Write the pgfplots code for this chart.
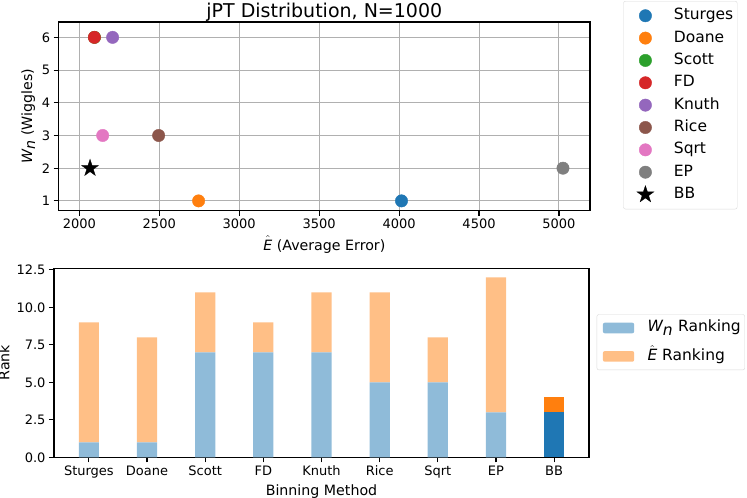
\documentclass[border=0pt]{standalone}
\usepackage{fontspec}
\setmainfont{DejaVu Sans}
\usepackage{pgfplots}
\pgfplotsset{compat=1.18}
\definecolor{c0}{HTML}{1F77B4}
\definecolor{c1}{HTML}{FF7F0E}
\definecolor{c2}{HTML}{2CA02C}
\definecolor{c3}{HTML}{D62728}
\definecolor{c4}{HTML}{9467BD}
\definecolor{c5}{HTML}{8C564B}
\definecolor{c6}{HTML}{E377C2}
\definecolor{c7}{HTML}{7F7F7F}
\definecolor{c0a}{HTML}{8FBBD9}
\definecolor{c1a}{HTML}{FFBF86}
\definecolor{gridc}{HTML}{B0B0B0}
\pgfdeclareplotmark{fstar}{%
  \pgfpathmoveto{\pgfqpointpolar{90}{\pgfplotmarksize}}%
  \pgfpathlineto{\pgfqpointpolar{126}{0.382\pgfplotmarksize}}%
  \pgfpathlineto{\pgfqpointpolar{162}{\pgfplotmarksize}}%
  \pgfpathlineto{\pgfqpointpolar{198}{0.382\pgfplotmarksize}}%
  \pgfpathlineto{\pgfqpointpolar{234}{\pgfplotmarksize}}%
  \pgfpathlineto{\pgfqpointpolar{270}{0.382\pgfplotmarksize}}%
  \pgfpathlineto{\pgfqpointpolar{306}{\pgfplotmarksize}}%
  \pgfpathlineto{\pgfqpointpolar{342}{0.382\pgfplotmarksize}}%
  \pgfpathlineto{\pgfqpointpolar{18}{\pgfplotmarksize}}%
  \pgfpathlineto{\pgfqpointpolar{54}{0.382\pgfplotmarksize}}%
  \pgfpathclose
  \pgfusepathqfillstroke}
\pgfplotsset{
  myax/.style={
    scale only axis,
    axis line style={black, line width=1.1pt},
    tick style={black, line width=1.1pt},
    tick align=outside,
    major tick length=5pt,
    xtick pos=left, ytick pos=left,
    /pgf/number format/assume math mode=true,
    tick label style={font=\fontsize{13}{15}\selectfont},
    label style={font=\fontsize{14.2}{16}\selectfont},
    legend cell align=left,
  },
}
\begin{document}
\begin{tikzpicture}
\useasboundingbox (0pt,0pt) rectangle (747pt,498pt);
% ---------- top scatter ----------
\begin{axis}[myax,
  at={(58.7pt,287.3pt)}, anchor=south west,
  width=531.3pt, height=188.7pt,
  xmin=1871, xmax=5194, ymin=0.70, ymax=6.47,
  xtick={2000,2500,...,5000}, ytick={1,2,...,6},
  /pgf/number format/.cd, set thousands separator={}, /pgfplots/.cd,
  grid=major, grid style={gridc, line width=1pt},
  title={\fontsize{19}{21}\selectfont jPT Distribution, N=1000},
  title style={yshift=-9pt},
  xlabel={$\hat{\textit{E}}$ (Average Error)},
  ylabel={$\textit{W}_{\textit{n}}$ (Wiggles)},
  legend style={at={(1.0627,1.111)}, anchor=north west,
    draw=black!15, fill=white, rounded corners=2pt,
    font=\fontsize{15.5}{17}\selectfont,
    inner xsep=4pt, inner ysep=5pt,
    row sep=3.35pt,
    nodes={text height=11.5pt, text depth=3.5pt, inner ysep=2pt, inner xsep=0pt},
    /tikz/every odd column/.append style={column sep=6pt},
  },
  legend image code/.code={\path (0pt,0pt) (40pt,0pt); \draw[#1] plot coordinates {(17.7pt,0pt)};},
]
\addplot[only marks, mark=*, mark size=6.2pt, color=c0] coordinates {(4015,1)};
\addlegendentry{Sturges}
\addplot[only marks, mark=*, mark size=6.2pt, color=c1] coordinates {(2746,1)};
\addlegendentry{Doane}
\addplot[only marks, mark=*, mark size=6.2pt, color=c2] coordinates {(2095,6)};
\addlegendentry{Scott}
\addplot[only marks, mark=*, mark size=6.2pt, color=c3] coordinates {(2094,6)};
\addlegendentry{FD}
\addplot[only marks, mark=*, mark size=6.2pt, color=c4] coordinates {(2208,6)};
\addlegendentry{Knuth}
\addplot[only marks, mark=*, mark size=6.2pt, color=c5] coordinates {(2496,3)};
\addlegendentry{Rice}
\addplot[only marks, mark=*, mark size=6.2pt, color=c6] coordinates {(2146,3)};
\addlegendentry{Sqrt}
\addplot[only marks, mark=*, mark size=6.2pt, color=c7] coordinates {(5025,2)};
\addlegendentry{EP}
\addplot[only marks, mark=fstar, mark size=9pt, color=black, mark options={fill=black, line width=0.3pt}] coordinates {(2067,2)};
\addlegendentry{BB}
\end{axis}
% ---------- bottom bars ----------
\begin{axis}[myax,
  at={(54pt,40.7pt)}, anchor=south west,
  width=535pt, height=189pt,
  xmin=-0.6, xmax=8.6, ymin=0, ymax=12.6,
  ybar stacked, bar width=20.2pt,
  xtick={0,...,8},
  xticklabels={Sturges,Doane,Scott,FD,Knuth,Rice,Sqrt,EP,BB},
  ytick={0,2.5,...,12.5},
  yticklabel style={/pgf/number format/.cd, fixed, fixed zerofill, precision=1},
  xlabel={Binning Method},
  ylabel={Rank},
  legend style={at={(1.0144,0.609)}, anchor=west,
    draw=black!15, rounded corners=2pt, fill=white,
    font=\fontsize{15.5}{17}\selectfont,
    inner xsep=4pt, inner ysep=4pt,
    row sep=9.4pt,
    nodes={text height=11.5pt, text depth=3.5pt, inner ysep=2pt, inner xsep=0pt},
    /tikz/every odd column/.append style={column sep=6pt},
  },
  legend image code/.code={\path (0pt,0pt) (40.6pt,0pt); \fill[#1] (2pt,-5.35pt) rectangle (33.3pt,5.35pt);},
]
\addlegendimage{fill=c0a, draw=none}
\addlegendimage{fill=c1a, draw=none}
\addplot[fill=c0a, draw=none] coordinates {(0,1) (1,1) (2,7) (3,7) (4,7) (5,5) (6,5) (7,3) (8,0)};
\addplot[fill=c0, draw=none] coordinates {(0,0) (1,0) (2,0) (3,0) (4,0) (5,0) (6,0) (7,0) (8,3)};
\addplot[fill=c1a, draw=none] coordinates {(0,8) (1,7) (2,4) (3,2) (4,4) (5,6) (6,3) (7,9) (8,0)};
\addplot[fill=c1, draw=none] coordinates {(0,0) (1,0) (2,0) (3,0) (4,0) (5,0) (6,0) (7,0) (8,1)};
\legend{$\textit{W}_{\textit{n}}$ Ranking, $\hat{\textit{E}}$ Ranking}
\end{axis}
\end{tikzpicture}
\end{document}
